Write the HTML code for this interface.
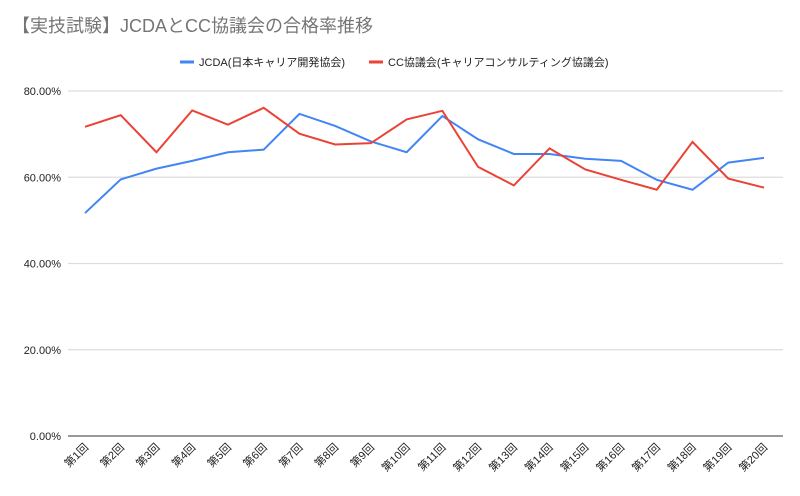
<!DOCTYPE html>
<html><head><meta charset="utf-8"><style>
body{margin:0;background:#fff;font-family:"Liberation Sans","Noto Sans CJK JP",sans-serif}
</style></head><body>
<svg width="800" height="491" xmlns="http://www.w3.org/2000/svg" style="font-family:'Liberation Sans','Noto Sans CJK JP',sans-serif">
<text x="12" y="32" font-size="18" fill="#757575">【実技試験】JCDAとCC協議会の合格率推移</text>
<g id="legend">
<line x1="180" y1="62" x2="194" y2="62" stroke="#4285f4" stroke-width="3"/>
<text x="199" y="66" font-size="11" fill="#222">JCDA(日本キャリア開発協会)</text>
<line x1="369" y1="62" x2="383" y2="62" stroke="#ea4335" stroke-width="3"/>
<text x="388" y="66" font-size="11" fill="#222">CC協議会(キャリアコンサルティング協議会)</text>
</g>
<g id="grid"></g><g id="xl"></g><g id="series"></g>
</svg>
<script>
const categories=["第1回","第2回","第3回","第4回","第5回","第6回","第7回","第8回","第9回","第10回","第11回","第12回","第13回","第14回","第15回","第16回","第17回","第18回","第19回","第20回"];
const jcda=[51.7,59.5,62.0,63.8,65.8,66.4,74.7,71.9,68.3,65.8,74.2,68.8,65.4,65.4,64.3,63.8,59.4,57.1,63.4,64.5];
const cc=[71.7,74.4,65.8,75.5,72.2,76.1,70.1,67.6,67.9,73.4,75.4,62.4,58.1,66.7,61.8,59.4,57.1,68.2,59.7,57.6];
const yTicks=[0,20,40,60,80];
const yLabels=["0.00%","20.00%","40.00%","60.00%","80.00%"];
const NS="http://www.w3.org/2000/svg";
const y=v=>436-v*(436-91)/80;
const x=i=>85+i*(764-85)/(categories.length-1);
const grid=document.getElementById('grid');
yTicks.forEach((t,k)=>{
 const l=document.createElementNS(NS,'line');
 
 
 l.setAttribute('x1',68);l.setAttribute('x2',783);l.setAttribute('y1',y(t));l.setAttribute('y2',y(t));
 l.setAttribute('stroke',t===0?'#333':'#ddd');l.setAttribute('stroke-width',t===0?1:1.2);
 grid.appendChild(l);
 const tx=document.createElementNS(NS,'text');
 
 
 tx.setAttribute('x',61);tx.setAttribute('y',y(t)+4);tx.setAttribute('text-anchor','end');
 tx.setAttribute('font-size','11');tx.setAttribute('fill','#222');tx.textContent=yLabels[k];
 grid.appendChild(tx);
});
const xl=document.getElementById('xl');
categories.forEach((c,i)=>{
 const tx=document.createElementNS(NS,'text');
 
 
 const px=x(i)+4,py=448;
 tx.setAttribute('x',px);tx.setAttribute('y',py);tx.setAttribute('text-anchor','end');
 tx.setAttribute('font-size','11');tx.setAttribute('fill','#222');
 tx.setAttribute('transform','rotate(-45 '+px+' '+py+')');tx.textContent=c;
 xl.appendChild(tx);
});
const s=document.getElementById('series');
[[jcda,'#4285f4','jcda-line'],[cc,'#ea4335','cc-line']].forEach(([d,col,n])=>{
 const p=document.createElementNS(NS,'polyline');
 
 
 p.setAttribute('points',d.map((v,i)=>x(i)+','+y(v)).join(' '));
 p.setAttribute('fill','none');p.setAttribute('stroke',col);p.setAttribute('stroke-width','2');
 s.appendChild(p);
});
</script>
</body></html>
